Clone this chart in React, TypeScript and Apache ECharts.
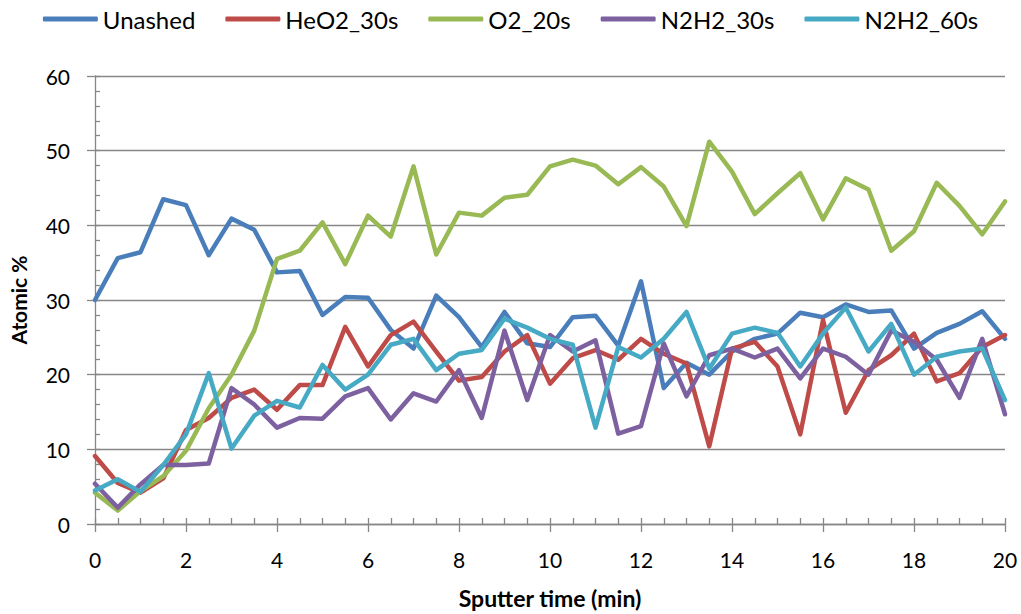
import React, { useEffect, useRef } from "react";
import * as echarts from "echarts";

// Sputter time (min), one sample every half minute
const times = [
  0, 0.5, 1, 1.5, 2, 2.5, 3, 3.5, 4, 4.5, 5, 5.5, 6, 6.5, 7, 7.5, 8, 8.5, 9, 9.5, 10,
  10.5, 11, 11.5, 12, 12.5, 13, 13.5, 14, 14.5, 15, 15.5, 16, 16.5, 17, 17.5, 18, 18.5,
  19, 19.5, 20,
];

// Atomic % per sample
const unashed = [
  30.0, 35.6, 36.4, 43.5, 42.7, 36.0, 40.9, 39.4, 33.7, 33.9, 28.0, 30.4, 30.3, 26.0,
  23.5, 30.6, 27.7, 23.7, 28.4, 24.2, 23.7, 27.7, 27.9, 23.9, 32.5, 18.2, 21.6, 20.0,
  23.1, 24.8, 25.5, 28.3, 27.7, 29.4, 28.4, 28.6, 23.5, 25.6, 26.8, 28.5, 24.8,
];
const heO2_30s = [
  9.1, 5.5, 4.2, 6.1, 12.6, 14.2, 16.9, 18.0, 15.3, 18.6, 18.6, 26.4, 21.1, 25.3, 27.1,
  23.1, 19.2, 19.7, 23.1, 25.3, 18.8, 22.2, 23.3, 22.0, 24.8, 22.8, 21.5, 10.4, 23.5,
  24.4, 21.1, 12.0, 27.3, 14.9, 20.6, 22.6, 25.5, 19.1, 20.2, 23.7, 25.3,
];
const o2_20s = [
  4.2, 1.8, 4.4, 6.4, 9.8, 15.5, 20.0, 25.9, 35.5, 36.6, 40.4, 34.8, 41.3, 38.5, 47.9,
  36.1, 41.7, 41.3, 43.7, 44.1, 47.9, 48.8, 48.0, 45.5, 47.8, 45.2, 39.9, 51.2, 47.2,
  41.5, 44.3, 47.0, 40.8, 46.3, 44.8, 36.6, 39.2, 45.7, 42.6, 38.8, 43.2,
];
const n2h2_30s = [
  5.4, 2.2, 5.3, 7.9, 7.9, 8.1, 18.2, 16.0, 12.9, 14.2, 14.1, 17.1, 18.2, 14.0, 17.5,
  16.4, 20.6, 14.2, 25.9, 16.6, 25.3, 23.1, 24.6, 12.1, 13.1, 24.2, 17.1, 22.6, 23.5,
  22.3, 23.5, 19.5, 23.5, 22.4, 20.0, 25.9, 24.4, 22.0, 16.9, 24.8, 14.7,
];
const n2h2_60s = [
  4.5, 6.0, 4.3, 7.9, 12.0, 20.2, 10.1, 14.5, 16.5, 15.6, 21.3, 18.0, 20.0, 24.0, 24.8,
  20.6, 22.8, 23.3, 27.5, 26.3, 24.8, 24.0, 12.9, 23.7, 22.3, 24.8, 28.4, 20.8, 25.5,
  26.3, 25.6, 21.1, 25.5, 29.0, 23.1, 26.8, 20.0, 22.4, 23.1, 23.5, 16.6,
];

const seriesNames = ["Unashed", "HeO2_30s", "O2_20s", "N2H2_30s", "N2H2_60s"];
const seriesValues = [unashed, heO2_30s, o2_20s, n2h2_30s, n2h2_60s];
const seriesColors = ["#4A7EBB", "#BE4B48", "#98B954", "#7D60A0", "#46AAC5"];

const FONT = "Lato, 'Open Sans', sans-serif";
const AXIS_GRAY = "#878787";

export default function App() {
  const ref = useRef<HTMLDivElement>(null);

  useEffect(() => {
    if (!ref.current) return;
    const chart = echarts.init(ref.current, undefined, { renderer: "svg" });

    const series = seriesNames.map((name, k) => ({
      name,
      type: "line",
      xAxisIndex: 0,
      yAxisIndex: 0,
      data: times.map((t, i) => [t, seriesValues[k][i]]),
      showSymbol: false,
      symbol: "none",
      lineStyle: { width: 4.5, color: seriesColors[k], cap: "round", join: "round" },
      itemStyle: { color: seriesColors[k] },
    }));

    chart.setOption({
      animation: false,
      backgroundColor: "#ffffff",
      textStyle: { fontFamily: FONT },
      legend: {
        top: 2,
        left: "center",
        data: seriesNames,
        icon: "roundRect",
        itemWidth: 55,
        itemHeight: 5,
        itemGap: 30,
        textStyle: { fontSize: 24, color: "#000", fontFamily: FONT },
      },
      grid: { left: 95, right: 16, top: 76, bottom: 87, containLabel: false },
      xAxis: [
        {
          type: "value",
          min: 0,
          max: 20,
          interval: 2,
          position: "bottom",
          name: "Sputter time (min)",
          nameLocation: "middle",
          nameGap: 62,
          nameTextStyle: { fontSize: 23, fontWeight: "bold", color: "#000", fontFamily: FONT },
          axisLine: { show: true, lineStyle: { color: AXIS_GRAY, width: 1.3 } },
          axisTick: { show: true, inside: false, length: 8, lineStyle: { color: AXIS_GRAY, width: 1.3 } },
          axisLabel: { fontSize: 21, color: "#000", margin: 25, fontFamily: FONT },
          splitLine: { show: false },
        },
        {
          type: "value",
          min: 0,
          max: 20,
          interval: 2,
          position: "bottom",
          axisLine: { show: false },
          axisTick: { show: true, inside: true, length: 6, lineStyle: { color: AXIS_GRAY, width: 1.3 } },
          minorTick: { show: true, splitNumber: 4, length: 6, lineStyle: { color: AXIS_GRAY, width: 1.3 } },
          axisLabel: { show: false },
          splitLine: { show: false },
        },
      ],
      yAxis: [
        {
          type: "value",
          min: 0,
          max: 60,
          interval: 10,
          position: "left",
          name: "Atomic %",
          nameLocation: "middle",
          nameGap: 66,
          nameTextStyle: { fontSize: 21, fontWeight: "bold", color: "#000", fontFamily: FONT },
          axisLine: { show: true, lineStyle: { color: AXIS_GRAY, width: 1.3 } },
          axisTick: { show: true, inside: false, length: 8, lineStyle: { color: AXIS_GRAY, width: 1.3 } },
          axisLabel: { fontSize: 21, color: "#000", margin: 25, fontFamily: FONT },
          splitLine: { show: true, lineStyle: { color: AXIS_GRAY, width: 1.3 } },
        },
        {
          type: "value",
          min: 0,
          max: 60,
          interval: 10,
          position: "left",
          axisLine: { show: false },
          axisTick: { show: true, inside: true, length: 5, lineStyle: { color: AXIS_GRAY, width: 1.3 } },
          minorTick: { show: true, splitNumber: 5, length: 5, lineStyle: { color: AXIS_GRAY, width: 1.3 } },
          axisLabel: { show: false },
          splitLine: { show: false },
        },
      ],
      series,
    });

    return () => chart.dispose();
  }, []);

  return (
    <div
      ref={ref}
      style={{ position: "fixed", left: 0, top: 0, width: 1021, height: 614 }}
    />
  );
}
